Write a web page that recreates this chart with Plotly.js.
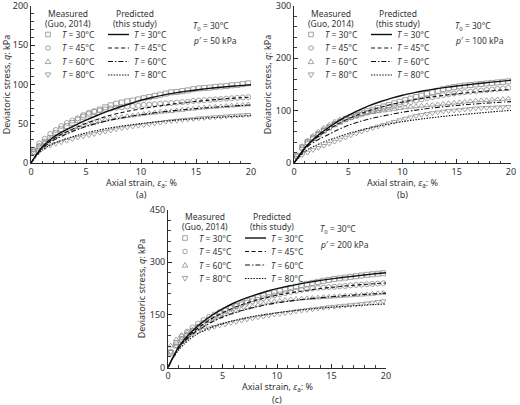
<!DOCTYPE html>
<html>
<head>
<meta charset="utf-8">
<script src="https://cdn.plot.ly/plotly-3.0.1.min.js"></script>
<style>
  html, body { margin: 0; padding: 0; background: #fff; }
  #chart { width: 520px; height: 405px; }
</style>
</head>
<body>
<div id="chart"></div>
<script>
// Temperatures of the four test series and test conditions
const temperatures = [30, 45, 60, 80];
const refTemperature = 30;
const confiningPressure = [50, 100, 200];
const panelLabels = ['(a)', '(b)', '(c)'];

// Axial strain (%) of the predicted curves
const strainPred = [0, 0.5, 1, 1.5, 2, 2.5, 3, 4, 5, 6, 7, 8, 9, 10, 11, 12, 13, 14, 15, 16, 17, 18, 19, 20];

// Predicted deviatoric stress (kPa), p' = 50 kPa
const predA30 = [0, 11, 20, 27, 32.5, 37, 41, 48, 54.5, 60.5, 66, 71, 75.5, 80, 83.5, 86.5, 89, 91.2, 93, 94.7, 96.2, 97.5, 98.6, 99.6];
const predA45 = [0, 10.5, 19, 25.5, 30.5, 34.5, 38, 44.5, 50.5, 55.5, 60, 63.5, 66.5, 69, 71.3, 73.4, 75.3, 77, 78.5, 79.8, 81, 82.1, 83.1, 84];
const predA60 = [0, 10, 18, 24, 28.5, 32, 35.5, 41.5, 46.5, 50.5, 54, 57, 59.5, 61.5, 63.5, 65.2, 66.7, 68.1, 69.3, 70.4, 71.4, 72.3, 73.2, 74];
const predA80 = [0, 9, 16, 21, 24.5, 27.5, 30, 34.5, 38.3, 41.5, 44.2, 46.5, 48.5, 50.3, 51.8, 53.2, 54.4, 55.5, 56.5, 57.4, 58.2, 59, 59.7, 60.4];

// Predicted deviatoric stress (kPa), p' = 100 kPa
const predB30 = [0, 15, 29, 39.5, 49, 57.5, 65, 79, 91, 101, 110, 117.5, 124, 129.5, 134, 138, 141.5, 144.5, 147, 149.5, 151.8, 154, 156, 158];
const predB45 = [0, 14.5, 28, 38.5, 47, 54.5, 61.5, 74, 84.5, 93, 100.5, 106.5, 112, 116.5, 120.5, 124, 127, 129.8, 132.2, 134.3, 136.2, 137.8, 139.2, 140.5];
const predB60 = [0, 14, 26.5, 35.5, 42, 47.5, 52.5, 63, 72, 79, 84.5, 89, 93.2, 97, 100.3, 103.2, 105.8, 108, 110, 111.8, 113.3, 114.7, 116, 117.2];
const predB80 = [0, 12, 22, 28.5, 33.5, 38, 42, 49.5, 56.5, 62, 67, 71.5, 75.5, 79, 82, 84.8, 87.3, 89.6, 91.7, 93.6, 95.4, 97.2, 99, 100.6];

// Predicted deviatoric stress (kPa), p' = 200 kPa
const predC30 = [0, 32, 60, 80, 97, 112, 125, 148, 167, 183, 196, 207, 216.5, 224.5, 231.5, 237.5, 243, 248, 252.5, 256.5, 260, 263.5, 266.8, 270];
const predC45 = [0, 31, 57, 76, 92, 106, 118, 139, 156, 170, 181.5, 191, 199, 206, 211.5, 216.5, 221, 225, 228.3, 231.3, 234, 236.5, 238.7, 240.7];
const predC60 = [0, 30, 55, 73, 88, 101, 111, 129, 143.5, 155, 164.5, 172, 178.5, 184, 188.5, 192.5, 196, 199, 201.7, 204, 206.2, 208.2, 210, 211.7];
const predC80 = [0, 28, 51, 67, 81, 92, 101, 114.5, 125, 133.5, 140.5, 146.5, 151.5, 156, 160, 163.5, 166.5, 169.2, 171.6, 173.8, 175.8, 177.7, 179.4, 181];

// Axial strain (%) of the measured points (Guo, 2014)
const strainMeas = [0.25, 0.75, 1.25, 1.75, 2.25, 2.75, 3.25, 3.75, 4.25, 4.75, 5.25, 5.75, 6.25, 6.75, 7.25, 7.75, 8.25, 8.75, 9.25, 9.75,
  10.25, 10.75, 11.25, 11.75, 12.25, 12.75, 13.25, 13.75, 14.25, 14.75, 15.25, 15.75, 16.25, 16.75, 17.25, 17.75, 18.25, 18.75, 19.25, 19.75];

// Measured deviatoric stress (kPa), p' = 50 kPa
const measA30 = [14, 21, 27, 32, 38, 43, 47, 51, 55, 59, 62, 65, 68, 71, 73.5, 75.5, 77, 78.5, 79.5, 81, 82.5, 84, 85.5, 87, 88.5, 90, 90.5, 91.5, 92.5, 94, 95, 95.5, 96, 97, 97.5, 98, 99, 99.5, 100.5, 101.5];
const measA45 = [17, 25, 31, 37, 42, 47, 51, 54, 57, 61, 64, 66, 67, 68.5, 69.5, 70.5, 71, 72, 72.5, 73, 74, 74.5, 75, 75.5, 76, 76.5, 77, 77.5, 78, 79, 79.5, 80, 80.5, 81, 81.5, 82, 82.5, 83, 83.5, 84];
const measA60 = [17, 22, 26, 30, 34, 37, 40, 43, 45.5, 48, 50, 52, 53.5, 55, 56.5, 57.5, 58.5, 59.5, 60.5, 61.5, 62.5, 63.5, 64, 65, 65.5, 66, 67, 67.5, 68.5, 69, 70, 70.5, 71, 71.5, 72, 72.5, 73, 73.5, 74, 74.5];
const measA80 = [13, 17, 20, 22.5, 24.5, 26.5, 28.5, 30.5, 32.5, 34, 35.5, 37, 38.5, 40, 41.5, 43, 44.5, 45.5, 46.5, 47.5, 48.5, 49.5, 50.5, 51.5, 52.5, 53.5, 54, 55, 55.5, 56, 57, 57.5, 58, 58.5, 59, 59.5, 60, 60.5, 61, 61.5];

// Measured deviatoric stress (kPa), p' = 100 kPa
const measB30 = [14, 30, 40, 48, 55, 62, 68, 74, 79, 84, 88, 92, 96, 99, 102, 105, 108, 111, 114, 117, 120, 123, 126, 129, 132, 135, 138, 141, 143, 145, 146.5, 148, 149, 150, 151, 152, 153, 154, 155, 156];
const measB45 = [12, 28, 38, 47, 55, 62, 68, 74, 79, 83, 87, 90, 93, 96, 99, 101.5, 104, 106.5, 109, 111.5, 114, 116.5, 119, 121.5, 124, 126, 128, 130, 131.5, 133, 134.5, 135.5, 136.5, 137.5, 138.5, 139.5, 140.5, 141.5, 142.5, 143.5];
const measB60 = [15, 32, 43, 52, 60, 67, 73, 79, 83, 86, 89, 91.5, 93.5, 95.5, 97, 98.5, 100, 101.5, 103, 104.5, 106, 107, 108, 109, 110, 111, 112, 113, 114, 115, 116, 117, 118, 119, 119.5, 120, 121, 121.5, 122, 123];
const measB80 = [10, 15, 20, 25, 29, 33, 37, 41, 45, 49, 53, 56.5, 60, 63.5, 67, 70, 73, 76, 79, 82, 85, 87.5, 90, 92, 94, 95.5, 97, 98.5, 99.5, 100.5, 101.5, 102.5, 103.5, 104.5, 105, 105.5, 106, 106.5, 107, 107.5];

// Measured deviatoric stress (kPa), p' = 200 kPa
const measC30 = [42, 63, 79, 92, 104, 116, 126, 136, 145, 154, 162, 169, 176, 183, 189, 195, 200, 205, 210, 214, 218, 222, 226, 230, 234, 238, 241, 244, 247, 249.5, 252, 254, 256, 258, 260, 262, 264, 265.5, 267, 268.5];
const measC45 = [45, 70, 88, 102, 114, 125, 135, 144, 151, 158, 164, 170, 175, 180, 185, 189, 193, 197, 201, 205, 208, 212, 215, 218, 221, 223, 225, 227, 228, 229, 230, 231, 232, 234, 235, 236, 237, 238, 239, 240];
const measC60 = [62, 80, 92, 100, 108, 116, 124, 132, 139, 145, 151, 156, 161, 166, 170, 174, 178, 182, 185, 188, 190, 192, 194, 195, 196, 197, 198, 199, 200, 201, 202, 203, 204, 205, 206, 207, 208, 209.5, 211, 212];
const measC80 = [45, 62, 75, 86, 96, 103, 108, 112, 116, 120, 123, 127, 130, 134, 137, 140, 143, 145, 148, 151, 153, 155, 157, 160, 162, 164, 166, 168, 170, 172, 173.5, 175, 176.5, 178, 179.5, 181, 183, 185, 187, 189];

const predicted = [[predA30, predA45, predA60, predA80], [predB30, predB45, predB60, predB80], [predC30, predC45, predC60, predC80]];
const measured = [[measA30, measA45, measA60, measA80], [measB30, measB45, measB60, measB80], [measC30, measC45, measC60, measC80]];

// ---- page geometry (pixels) ----
const W = 520, H = 405;
const px = v => v / W;
const py = v => 1 - v / H;

const frames = [
  { left: 31,  right: 251, top: 6,     bottom: 163,   ymax: 200, major: 50,  minor: 10, infoDx: 160 },
  { left: 294, right: 511, top: 6,     bottom: 163,   ymax: 300, major: 100, minor: 20, infoDx: 159 },
  { left: 168, right: 386, top: 209.5, bottom: 367.5, ymax: 450, major: 150, minor: 30, infoDx: 150 }
];

const FONT = 'Noto Sans, Open Sans, sans-serif';
const TEXT = '#333333';
const AXIS = '#2a2a2a';
const MARK = '#8c8c8c';
const LINE = '#111111';

const symbols = ['square-open', 'circle-open', 'triangle-up-open', 'triangle-down-open'];
const dashes = ['solid', '4px,2.6px', '5px,2px,1.4px,2px', '1.5px,1.3px'];
const widths = [1.4, 1.1, 1.1, 1.1];

const traces = [];
const layout = {
  width: W, height: H,
  margin: { l: 0, r: 0, t: 0, b: 0 },
  paper_bgcolor: '#fff', plot_bgcolor: 'rgba(0,0,0,0)',
  showlegend: false,
  font: { family: FONT, size: 9, color: TEXT },
  annotations: [], shapes: []
};

function note(x, y, text, opts) {
  layout.annotations.push(Object.assign({
    xref: 'paper', yref: 'paper', x: px(x), y: py(y),
    xanchor: 'left', yanchor: 'middle', showarrow: false, text: text,
    font: { family: FONT, size: 8.5, color: TEXT }
  }, opts || {}));
}

function legendMarker(kind, cx, cy) {
  const s = { xref: 'paper', yref: 'paper', line: { color: MARK, width: 0.8 }, fillcolor: 'rgba(0,0,0,0)' };
  const r = 2.3;
  if (kind === 0 || kind === 1) {
    s.type = kind === 0 ? 'rect' : 'circle';
    s.x0 = px(cx - r); s.x1 = px(cx + r); s.y0 = py(cy + r); s.y1 = py(cy - r);
  } else {
    const up = kind === 2;
    const base = up ? cy + 2.1 : cy - 2.1;
    const tip = up ? cy - 2.6 : cy + 2.6;
    s.type = 'path';
    s.path = `M ${px(cx - 2.8)},${py(base)} L ${px(cx + 2.8)},${py(base)} L ${px(cx)},${py(tip)} Z`;
  }
  layout.shapes.push(s);
}

frames.forEach((f, i) => {
  const suf = i === 0 ? '' : String(i + 1);
  const xa = 'x' + suf, ya = 'y' + suf;

  layout['xaxis' + suf] = {
    domain: [px(f.left), px(f.right)], range: [0, 20], anchor: ya,
    showline: true, linecolor: AXIS, linewidth: 1, mirror: false,
    ticks: 'inside', ticklen: 4, tickwidth: 1, tickcolor: AXIS,
    tick0: 0, dtick: 5, showgrid: false, zeroline: false,
    minor: { dtick: 1, ticks: 'inside', ticklen: 2.5, tickwidth: 0.9, tickcolor: AXIS, showgrid: false },
    tickfont: { family: FONT, size: 9, color: TEXT }, ticklabeloverflow: 'allow', fixedrange: true
  };
  layout['yaxis' + suf] = {
    domain: [py(f.bottom), py(f.top)], range: [0, f.ymax], anchor: xa,
    showline: true, linecolor: AXIS, linewidth: 1, mirror: false,
    ticks: 'inside', ticklen: 4, tickwidth: 1, tickcolor: AXIS,
    tick0: 0, dtick: f.major, showgrid: false, zeroline: false,
    minor: { dtick: f.minor, ticks: 'inside', ticklen: 2.5, tickwidth: 0.9, tickcolor: AXIS, showgrid: false },
    tickfont: { family: FONT, size: 9, color: TEXT }, ticklabeloverflow: 'allow', fixedrange: true,
    title: { text: 'Deviatoric stress, <i>q</i>: kPa', standoff: 2, font: { family: FONT, size: 9, color: TEXT } }
  };

  // measured points
  temperatures.forEach((t, j) => {
    traces.push({
      type: 'scatter', mode: 'markers', xaxis: xa, yaxis: ya,
      x: strainMeas, y: measured[i][j], name: 'Measured T = ' + t,
      marker: { symbol: symbols[j], size: 5, color: MARK, line: { color: MARK, width: 0.8 } },
      hoverinfo: 'skip'
    });
  });
  // predicted curves
  temperatures.forEach((t, j) => {
    traces.push({
      type: 'scatter', mode: 'lines', xaxis: xa, yaxis: ya,
      x: strainPred, y: predicted[i][j], name: 'Predicted T = ' + t,
      line: { color: LINE, width: widths[j], dash: dashes[j], shape: 'spline', smoothing: 0.6 },
      hoverinfo: 'skip'
    });
  });

  // x axis title and panel label
  const midX = (f.left + f.right) / 2;
  note(midX, f.bottom + 19.5, 'Axial strain, <i>ε</i><sub>a</sub>: %', { xanchor: 'center', font: { family: FONT, size: 9, color: TEXT } });
  note(midX, f.bottom + 32, panelLabels[i], { xanchor: 'center', font: { family: FONT, size: 9, color: TEXT } });

  // key: measured / predicted
  note(f.left + 37, f.top + 7, 'Measured', { xanchor: 'center' });
  note(f.left + 37, f.top + 17, '(Guo, 2014)', { xanchor: 'center' });
  note(f.left + 104, f.top + 7, 'Predicted', { xanchor: 'center' });
  note(f.left + 104, f.top + 17, '(this study)', { xanchor: 'center' });

  const rows = [28.5, 42, 55.5, 69];
  temperatures.forEach((t, j) => {
    const y = f.top + rows[j];
    legendMarker(j, f.left + 17, y);
    note(f.left + 29, y, '<i>T</i> = ' + t + '°C');
    layout.shapes.push({
      type: 'line', xref: 'paper', yref: 'paper',
      x0: px(f.left + 77), x1: px(f.left + 98), y0: py(y), y1: py(y),
      line: { color: LINE, width: widths[j], dash: dashes[j] }
    });
    note(f.left + 101, y, '<i>T</i> = ' + t + '°C');
  });

  note(f.left + f.infoDx, f.top + 20, '<i>T</i><sub>0</sub> = ' + refTemperature + '°C');
  note(f.left + f.infoDx, f.top + 35, '<i>p</i>′ = ' + confiningPressure[i] + ' kPa');
});

Plotly.newPlot('chart', traces, layout, { staticPlot: true, displayModeBar: false });
</script>
</body>
</html>
